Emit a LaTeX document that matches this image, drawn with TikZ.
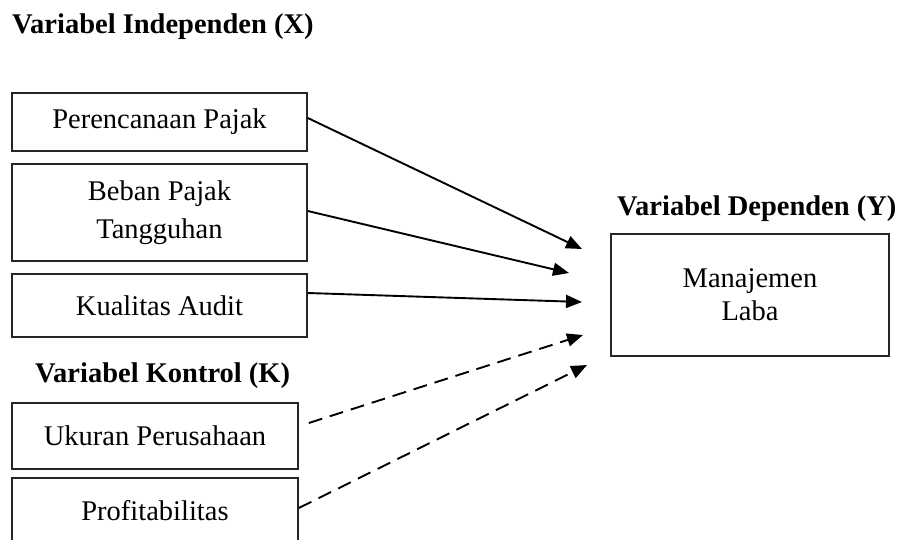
\documentclass[tikz,border=0pt]{standalone}
\usepackage{fontspec}
\setmainfont{Liberation Serif}
\usetikzlibrary{arrows.meta}
\begin{document}
\begin{tikzpicture}[x=1pt,y=-1pt,
  box/.style={draw=black!85, line width=1.6pt, inner sep=0pt, align=center, font=\fontsize{28.5}{38}\selectfont},
  ttl/.style={anchor=base west, inner sep=0pt, font=\fontsize{28.5}{34}\selectfont\bfseries},
  arr/.style={line width=1.9pt, -{Triangle[length=16pt,width=13pt]}},
  darr/.style={arr, dash pattern=on 14pt off 8pt}]
\useasboundingbox (0,0) rectangle (899,539);
\clip (0,0) rectangle (899,539);
\node[ttl] (tx) at (12,33) {Variabel Independen (X)};
\node[ttl] (tk) at (35,382) {Variabel Kontrol (K)};
\node[ttl] (ty) at (617,215) {Variabel Dependen (Y)};
\node[box, minimum width=295pt, minimum height=58pt] (p1) at (159.5,122) {Perencanaan Pajak};
\node[box, minimum width=295pt, minimum height=97pt] (p2) at (159.5,212.5) {Beban Pajak\\Tangguhan};
\node[box, minimum width=295pt, minimum height=63pt] (p3) at (159.5,305.5) {Kualitas Audit};
\node[box, minimum width=286pt, minimum height=66pt] (p4) at (155,436) {Ukuran Perusahaan};
\node[box, minimum width=286pt, minimum height=65pt] (p5) at (155,510.5) {Profitabilitas};
\node[box, minimum width=278pt, minimum height=122pt, font=\fontsize{28.5}{33}\selectfont] (y) at (750,295) {Manajemen\\Laba};
\coordinate (e1) at (582,249);
\coordinate (e2) at (569,273);
\coordinate (e3) at (582,302);
\coordinate (e4) at (583,335);
\coordinate (e5) at (587,365);
\draw[arr] ([yshift=4pt]p1.east) -- (e1);
\draw[arr] ([yshift=1.5pt]p2.east) -- (e2);
\draw[arr] ([yshift=12.5pt]p3.east) -- (e3);
\draw[darr] ([xshift=10pt,yshift=13pt]p4.east) -- (e4);
\draw[darr] ([yshift=2.5pt]p5.east) -- (e5);
\end{tikzpicture}
\end{document}
